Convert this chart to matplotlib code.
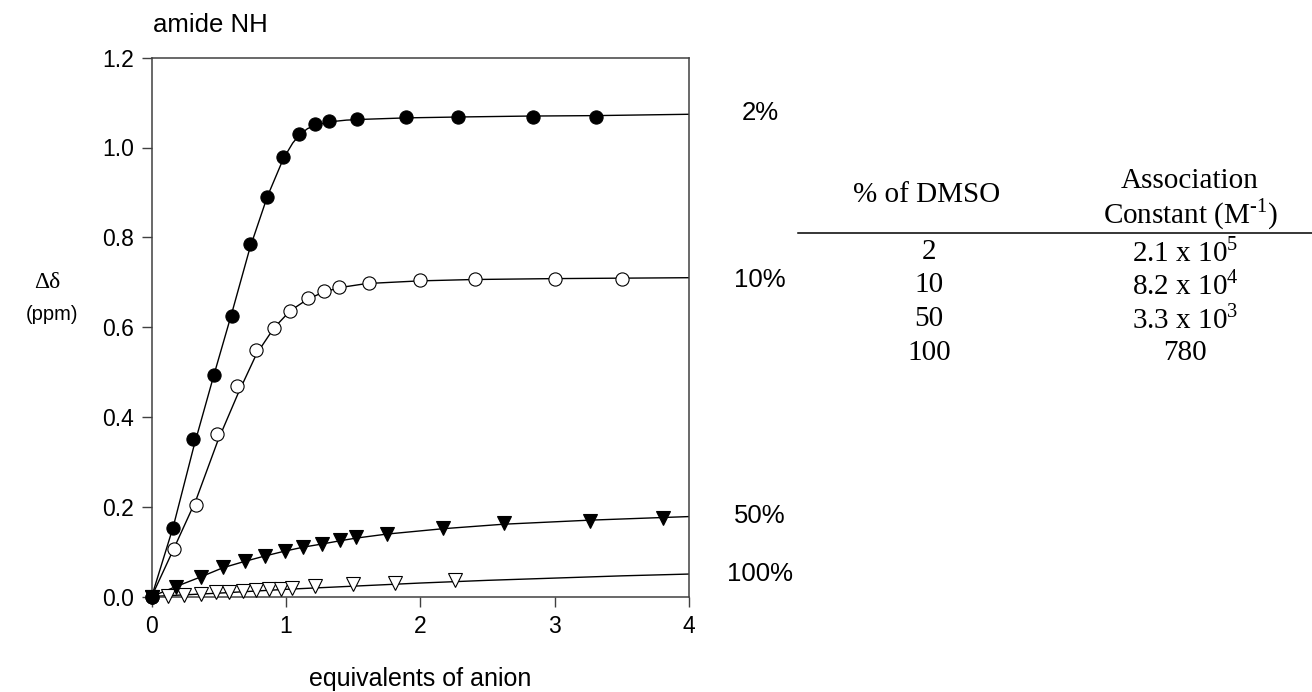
import matplotlib
matplotlib.use("Agg")
import matplotlib.pyplot as plt
from matplotlib.lines import Line2D

# ---------------- data ----------------
# 2 % DMSO  (filled circles)
x2 = [0, 0.157, 0.31, 0.463, 0.60, 0.73, 0.86, 0.98, 1.10, 1.215, 1.32, 1.526, 1.89, 2.28, 2.84, 3.31]
y2 = [0, 0.152, 0.350, 0.494, 0.624, 0.785, 0.889, 0.979, 1.031, 1.052, 1.059, 1.063, 1.067, 1.067, 1.068, 1.068]
# 10 % DMSO (open circles)
x10 = [0, 0.165, 0.33, 0.485, 0.634, 0.777, 0.909, 1.033, 1.163, 1.281, 1.397, 1.614, 2.0, 2.41, 3.0, 3.5]
y10 = [0, 0.105, 0.204, 0.362, 0.469, 0.548, 0.599, 0.636, 0.664, 0.681, 0.689, 0.699, 0.705, 0.707, 0.707, 0.707]
# 50 % DMSO (filled down triangles)
x50 = [0, 0.179, 0.364, 0.531, 0.694, 0.843, 0.992, 1.13, 1.267, 1.399, 1.523, 1.755, 2.17, 2.62, 3.26, 3.81]
y50 = [0, 0.021, 0.043, 0.065, 0.079, 0.091, 0.102, 0.111, 0.117, 0.125, 0.132, 0.140, 0.152, 0.163, 0.169, 0.174]
# 100 % DMSO (open down triangles)
x100 = [0, 0.118, 0.242, 0.364, 0.477, 0.579, 0.68, 0.78, 0.876, 0.964, 1.047, 1.217, 1.50, 1.81, 2.26]
y100 = [0, 0.001, 0.003, 0.006, 0.009, 0.011, 0.013, 0.015, 0.016, 0.017, 0.018, 0.024, 0.028, 0.031, 0.037]

# fitted curves
cx2 = [0, 0.16, 0.31, 0.46, 0.60, 0.73, 0.86, 0.98, 1.05, 1.10, 1.16, 1.22, 1.32, 1.45, 1.6, 1.9, 2.3, 2.8, 3.3, 4.0]
cy2 = [0, 0.155, 0.33, 0.49, 0.635, 0.775, 0.89, 0.975, 1.010, 1.028, 1.042, 1.050, 1.057, 1.061, 1.063, 1.066, 1.068, 1.070, 1.071, 1.074]
cx10 = [0, 0.17, 0.33, 0.49, 0.64, 0.78, 0.91, 1.03, 1.16, 1.28, 1.40, 1.6, 2.0, 2.4, 3.0, 3.5, 4.0]
cy10 = [0, 0.11, 0.215, 0.345, 0.45, 0.54, 0.598, 0.636, 0.662, 0.678, 0.688, 0.697, 0.703, 0.706, 0.708, 0.709, 0.710]
cx50 = [0, 0.18, 0.36, 0.53, 0.69, 0.84, 0.99, 1.13, 1.27, 1.40, 1.52, 1.75, 2.17, 2.62, 3.26, 3.81, 4.0]
cy50 = [0, 0.022, 0.043, 0.064, 0.078, 0.090, 0.101, 0.110, 0.117, 0.124, 0.130, 0.139, 0.151, 0.161, 0.170, 0.176, 0.178]
cx100 = [0, 0.5, 1.0, 1.5, 2.0, 2.5, 3.0, 3.5, 4.0]
cy100 = [0, 0.0075, 0.016, 0.023, 0.030, 0.036, 0.041, 0.046, 0.050]

series_labels = ["2%", "10%", "50%", "100%"]
label_y = [1.076, 0.704, 0.180, 0.049]

x_ticks = [0, 1, 2, 3, 4]
y_ticks = [0.0, 0.2, 0.4, 0.6, 0.8, 1.0, 1.2]

table_dmso = ["2", "10", "50", "100"]
table_K = ["2.1 x 10$^{\\mathregular{5}}$", "8.2 x 10$^{\\mathregular{4}}$",
           "3.3 x 10$^{\\mathregular{3}}$", "780"]

# ---------------- figure ----------------
W, H = 1312, 692
fig = plt.figure(figsize=(W / 100, H / 100), dpi=100)
sans = "Liberation Sans"
serif = "Liberation Serif"

def fx(px):
    return px / W

def fy(py):
    return 1 - py / H

ax = fig.add_axes([fx(151.7), fy(596.5), (689 - 151.7) / W, (596.5 - 57.7) / H])
ax.set_xlim(0, 4)
ax.set_ylim(0, 1.2)

lw_curve = 1.0
ax.plot(cx2, cy2, color="black", lw=lw_curve, zorder=2)
ax.plot(cx10, cy10, color="black", lw=lw_curve, zorder=2)
ax.plot(cx50, cy50, color="black", lw=lw_curve, zorder=2)
ax.plot(cx100, cy100, color="black", lw=lw_curve, zorder=2)

ms = 9.5
ax.plot(x100, y100, linestyle="none", marker="v", ms=9.5, mfc="white", mec="black", mew=0.8, clip_on=False, zorder=3)
ax.plot(x50, y50, linestyle="none", marker="v", ms=9.5, mfc="black", mec="black", mew=0.8, clip_on=False, zorder=3)
ax.plot(x10, y10, linestyle="none", marker="o", ms=ms, mfc="white", mec="black", mew=0.8, clip_on=False, zorder=3)
ax.plot(x2, y2, linestyle="none", marker="o", ms=ms, mfc="black", mec="black", mew=0.8, clip_on=False, zorder=4)

ax.set_xticks(x_ticks)
ax.set_xticklabels([str(v) for v in x_ticks])
ax.set_yticks(y_ticks)
ax.set_yticklabels([f"{v:.1f}" for v in y_ticks])
ax.tick_params(axis="both", direction="out", length=7, width=1.0, color="#404040",
               labelsize=16.5, pad=6, top=False, right=False)
for lab in ax.get_xticklabels() + ax.get_yticklabels():
    lab.set_fontfamily(sans)
for sp in ax.spines.values():
    sp.set_color("#404040")
    sp.set_linewidth(1.1)

for lbl, yv in zip(series_labels, label_y):
    ax.text(4.53, yv, lbl, ha="center", va="center", fontsize=18.5, family=sans, clip_on=False)

fig.text(fx(153), fy(32), "amide NH", ha="left", va="baseline", fontsize=18.5, family=sans)
fig.text(fx(47), fy(283), "\u0394\u03b4", ha="center", va="center", fontsize=17, family=serif)
fig.text(fx(52), fy(315), "(ppm)", ha="center", va="center", fontsize=14.5, family=sans)
fig.text(fx(420), fy(679), "equivalents of anion", ha="center", va="center", fontsize=18, family=sans)

# ---------------- table ----------------
tfs = 21
fig.text(fx(927), fy(195), "% of DMSO", ha="center", va="center", fontsize=tfs, family=serif)
fig.text(fx(1190), fy(181), "Association", ha="center", va="center", fontsize=tfs, family=serif)
fig.text(fx(1190), fy(214), "Constant (M$^{\\mathregular{\u2010}\\mathregular{1}}$)", ha="center", va="center",
         fontsize=tfs, family=serif)
fig.add_artist(Line2D([fx(798), fx(1312)], [fy(232.5), fy(232.5)], transform=fig.transFigure,
                      color="black", lw=1.1))
row_y = [252, 285.5, 319, 353]
for d, k, ry in zip(table_dmso, table_K, row_y):
    fig.text(fx(929), fy(ry), d, ha="center", va="center", fontsize=tfs, family=serif)
    fig.text(fx(1185), fy(ry), k, ha="center", va="center", fontsize=tfs, family=serif)

fig.savefig("out.png", dpi=100)
